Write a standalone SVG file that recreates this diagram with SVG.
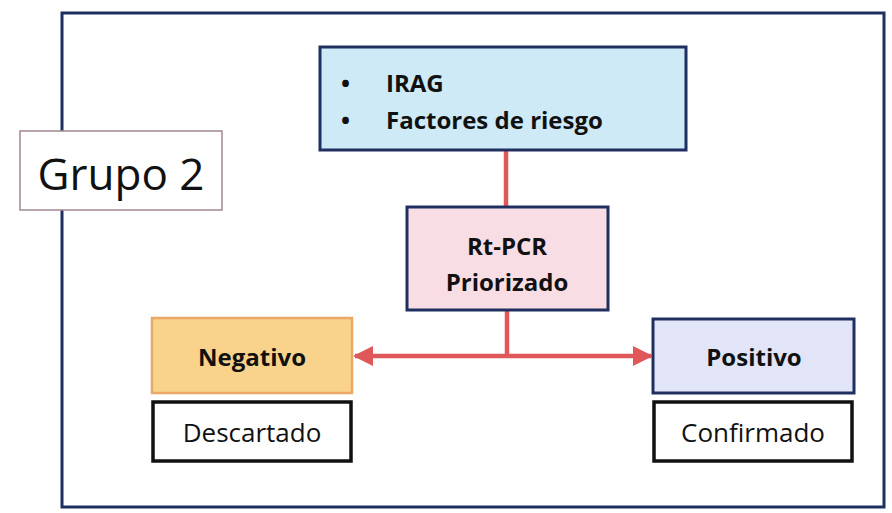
<svg xmlns="http://www.w3.org/2000/svg" width="892" height="513" viewBox="0 0 892 513">
<style>
text{font-family:"Open Sans","Liberation Sans",sans-serif;fill:#111;}
.b{font-weight:700;font-size:24px;}
.r{font-size:26px;}
.c{text-anchor:middle;}
.navy{stroke:#1f3060;stroke-width:3;}
.blk{fill:#fff;stroke:#111;stroke-width:3.5;}
.conn{stroke:#e0575a;stroke-width:4.5;fill:none;}
</style>
<defs>
<marker id="ah" viewBox="0 0 10 10" refX="9" refY="5" markerWidth="4.5" markerHeight="4.5" orient="auto-start-reverse">
<path d="M0,0 L10,5 L0,10 z" fill="#e0575a"/>
</marker>
</defs>
<rect width="892" height="513" fill="#fff"/>
<g id="frame"><rect x="62" y="13" width="822" height="494" fill="#fff" class="navy"/></g>
<g id="connectors">
<line class="conn" x1="506" y1="151" x2="506" y2="207"/>
<line class="conn" x1="507" y1="310" x2="507" y2="356"/>
<line class="conn" x1="507" y1="356" x2="355" y2="356" marker-end="url(#ah)"/>
<line class="conn" x1="507" y1="356" x2="651" y2="356" marker-end="url(#ah)"/>
</g>
<g id="grupo">
<rect x="20" y="131" width="202" height="79" fill="#fff" stroke="#a08890" stroke-width="1.5"/>
<text x="121" y="190" class="c" style="font-size:44px">Grupo 2</text>
</g>
<g id="criterios">
<rect x="320" y="47" width="366" height="103" fill="#cdeaf6" class="navy"/>
<text x="341" y="92" class="b">•</text>
<text x="386" y="92" class="b">IRAG</text>
<text x="341" y="129" class="b">•</text>
<text x="386" y="129" class="b">Factores de riesgo</text>
</g>
<g id="rtpcr">
<rect x="407" y="207" width="201" height="103" fill="#f9dde4" class="navy"/>
<text x="507" y="255" class="b c">Rt-PCR</text>
<text x="507" y="291" class="b c">Priorizado</text>
</g>
<g id="negativo">
<rect x="152" y="318" width="200" height="75" fill="#f9d38c" stroke="#eaa866" stroke-width="2.5"/>
<text x="252" y="366" class="b c">Negativo</text>
</g>
<g id="descartado">
<rect x="153" y="402" width="198" height="59" class="blk"/>
<text x="252" y="442" class="c r">Descartado</text>
</g>
<g id="positivo">
<rect x="653" y="319" width="201" height="74" fill="#e2e4f7" class="navy"/>
<text x="754" y="366" class="b c">Positivo</text>
</g>
<g id="confirmado">
<rect x="654" y="402" width="198" height="59" class="blk"/>
<text x="753" y="442" class="c r">Confirmado</text>
</g>
</svg>
